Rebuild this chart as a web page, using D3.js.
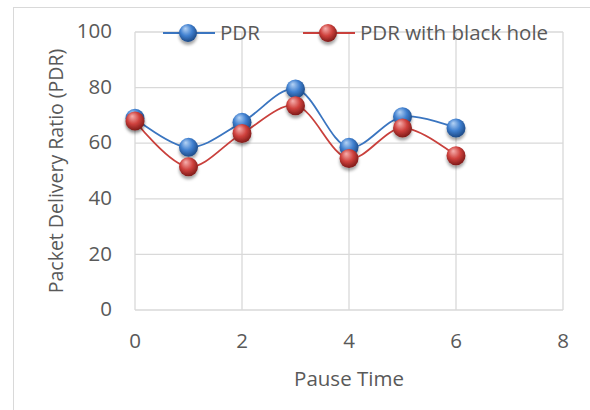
<!DOCTYPE html>
<html>
<head>
<meta charset="utf-8">
<script src="https://cdn.jsdelivr.net/npm/d3@7"></script>
<style>
  body { margin: 0; background: #fff; }
  text { font-family: "Open Sans", "Noto Sans", sans-serif; fill: #595959; }
</style>
</head>
<body>
<div id="chart"></div>
<script>
// data
const pauseTimes = [0, 1, 2, 3, 4, 5, 6];
const pdr = [69, 58.5, 67.5, 79.5, 58.5, 69.5, 65.5];
const pdrBlackHole = [68, 51.5, 63.5, 73.5, 54.5, 65.5, 55.5];
const xTicks = [0, 2, 4, 6, 8];
const yTicks = [0, 20, 40, 60, 80, 100];
const seriesNames = ['PDR', 'PDR with black hole'];

const width = 590, height = 410;
const margin = { left: 135, right: 27, top: 32, bottom: 100 };

const svg = d3.select('#chart').append('svg')
  .attr('width', width)
  .attr('height', height);

const defs = svg.append('defs');

// sphere look for the markers
function sphere(id, light, mid, dark) {
  const g = defs.append('radialGradient')
    .attr('id', id)
    .attr('cx', '45%').attr('cy', '40%').attr('r', '60%')
    .attr('fx', '35%').attr('fy', '25%');
  g.append('stop').attr('offset', '0%').attr('stop-color', light);
  g.append('stop').attr('offset', '55%').attr('stop-color', mid);
  g.append('stop').attr('offset', '100%').attr('stop-color', dark);
}
sphere('blueBall', '#b5d3f5', '#3f7fcf', '#1d4a86');
sphere('redBall', '#f6b0ae', '#cf413d', '#7f1b19');

const shadow = defs.append('filter').attr('id', 'shadow')
  .attr('x', '-50%').attr('y', '-50%').attr('width', '200%').attr('height', '200%');
shadow.append('feDropShadow')
  .attr('dx', 0).attr('dy', 3).attr('stdDeviation', 1.8)
  .attr('flood-color', '#000').attr('flood-opacity', 0.35);

// outer chart border
svg.append('rect')
  .attr('x', 13.5).attr('y', 7.5)
  .attr('width', 620).attr('height', 430)
  .attr('fill', 'none')
  .attr('stroke', '#d9d9d9');

const x = d3.scaleLinear().domain([0, 8]).range([margin.left, width - margin.right]);
const y = d3.scaleLinear().domain([0, 100]).range([height - margin.bottom, margin.top]);

// gridlines
svg.append('g').selectAll('line.h')
  .data(yTicks)
  .enter().append('line')
  .attr('x1', x(0)).attr('x2', x(8))
  .attr('y1', d => y(d)).attr('y2', d => y(d))
  .attr('stroke', '#d9d9d9').attr('stroke-width', 1.3);

svg.append('g').selectAll('line.v')
  .data(xTicks)
  .enter().append('line')
  .attr('x1', d => x(d)).attr('x2', d => x(d))
  .attr('y1', y(0)).attr('y2', y(100))
  .attr('stroke', '#d9d9d9').attr('stroke-width', 1.3);

// tick labels
svg.append('g').selectAll('text')
  .data(yTicks)
  .enter().append('text')
  .attr('x', x(0) - 23)
  .attr('y', d => y(d) - 1)
  .attr('dy', '0.35em')
  .attr('text-anchor', 'end')
  .attr('font-size', 20.5)
  .text(d => d);

svg.append('g').selectAll('text')
  .data(xTicks)
  .enter().append('text')
  .attr('x', d => x(d))
  .attr('y', y(0) + 31)
  .attr('dy', '0.35em')
  .attr('text-anchor', 'middle')
  .attr('font-size', 20.5)
  .text(d => d);

// axis titles
svg.append('text')
  .attr('x', x(4))
  .attr('y', 386)
  .attr('text-anchor', 'middle')
  .attr('font-size', 20.5)
  .text('Pause Time');

svg.append('text')
  .attr('transform', 'translate(63,171) rotate(-90)')
  .attr('text-anchor', 'middle')
  .attr('font-size', 19.5)
  .text('Packet Delivery Ratio (PDR)');

const line = d3.line()
  .x((d, i) => x(pauseTimes[i]))
  .y(d => y(d))
  .curve(d3.curveCatmullRom.alpha(0.5));

const series = [
  { name: seriesNames[0], values: pdr, color: '#3a75c0', ball: 'url(#blueBall)' },
  { name: seriesNames[1], values: pdrBlackHole, color: '#c9403c', ball: 'url(#redBall)' }
];

series.forEach(s => {
  svg.append('path')
    .datum(s.values)
    .attr('d', line)
    .attr('fill', 'none')
    .attr('stroke', s.color)
    .attr('stroke-width', 1.8);
});

series.forEach(s => {
  svg.append('g').selectAll('circle')
    .data(s.values)
    .enter().append('circle')
    .attr('cx', (d, i) => x(pauseTimes[i]))
    .attr('cy', d => y(d))
    .attr('r', 9.5)
    .attr('fill', s.ball)
    .attr('filter', 'url(#shadow)');
});

// legend
const legendX = [163, 303];
series.forEach((s, i) => {
  const g = svg.append('g').attr('transform', `translate(${legendX[i]},33)`);
  g.append('line')
    .attr('x1', 0).attr('x2', 52)
    .attr('stroke', s.color).attr('stroke-width', 1.8);
  g.append('circle')
    .attr('cx', 25).attr('r', 9)
    .attr('fill', s.ball)
    .attr('filter', 'url(#shadow)');
  g.append('text')
    .attr('x', 57)
    .attr('dy', '0.35em')
    .attr('font-size', 20.5)
    .text(s.name);
});
</script>
</body>
</html>
